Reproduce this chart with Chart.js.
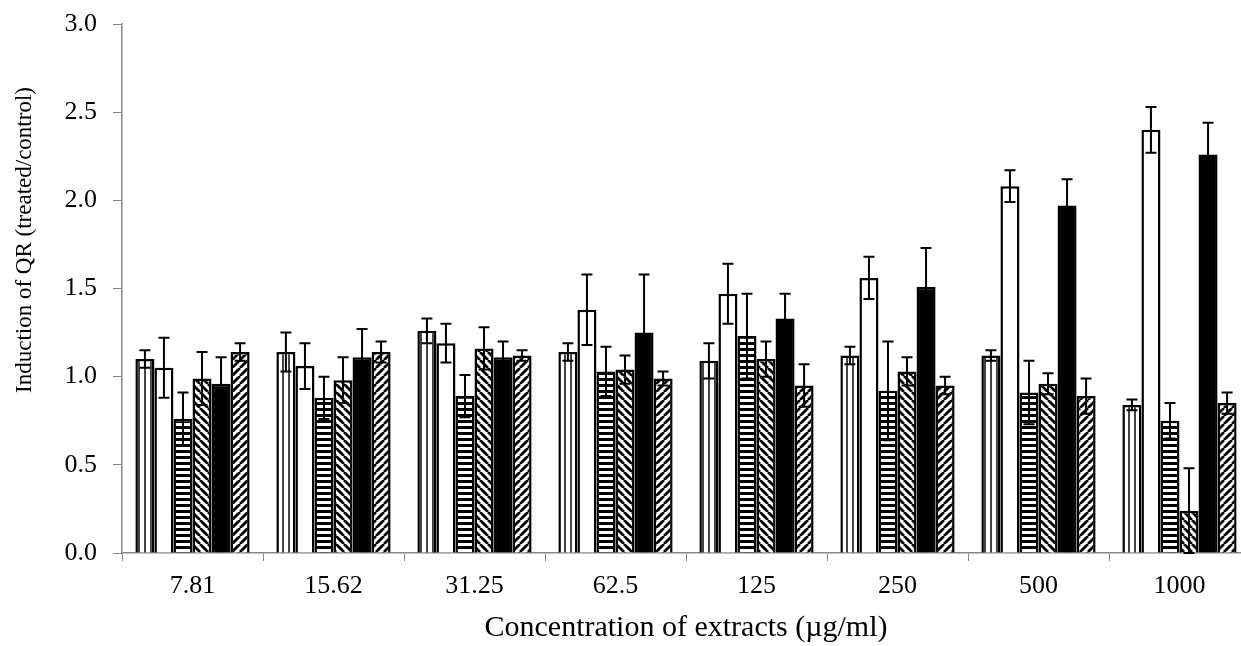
<!DOCTYPE html>
<html>
<head>
<meta charset="utf-8">
<script src="https://cdn.jsdelivr.net/npm/chart.js@4.4.1/dist/chart.umd.min.js"></script>
<style>
  html, body { margin: 0; padding: 0; background: #fff; overflow: hidden; }
  #wrap { width: 1260px; height: 646px; }
</style>
</head>
<body>
<div id="wrap"><canvas id="chart" width="1260" height="646"></canvas></div>
<script>
const categories = ["7.81", "15.62", "31.25", "62.5", "125", "250", "500", "1000"];
const yTicks = [0, 0.5, 1.0, 1.5, 2.0, 2.5, 3.0];
const yTitle = "Induction of QR (treated/control)";
const xTitle = "Concentration of extracts (\u00b5g/ml)";

// six extracts per concentration, left to right in each group
const verticalValues = [1.10, 1.14, 1.26, 1.14, 1.09, 1.12, 1.12, 0.84];
const verticalErrors = [0.05, 0.11, 0.07, 0.05, 0.10, 0.05, 0.03, 0.03];
const whiteValues = [1.05, 1.06, 1.19, 1.38, 1.47, 1.56, 2.08, 2.40];
const whiteErrors = [0.17, 0.13, 0.11, 0.20, 0.17, 0.12, 0.09, 0.13];
const horizontalValues = [0.76, 0.88, 0.89, 1.03, 1.23, 0.92, 0.91, 0.75];
const horizontalErrors = [0.15, 0.12, 0.12, 0.14, 0.24, 0.28, 0.18, 0.10];
const backslashValues = [0.99, 0.98, 1.16, 1.04, 1.10, 1.03, 0.96, 0.24];
const backslashErrors = [0.15, 0.13, 0.12, 0.08, 0.10, 0.08, 0.06, 0.24];
const blackValues = [0.96, 1.11, 1.11, 1.25, 1.33, 1.51, 1.97, 2.26];
const blackErrors = [0.15, 0.16, 0.09, 0.33, 0.14, 0.22, 0.15, 0.18];
const slashValues = [1.14, 1.14, 1.12, 0.99, 0.95, 0.95, 0.89, 0.85];
const slashErrors = [0.05, 0.06, 0.03, 0.04, 0.12, 0.05, 0.10, 0.06];

const serif = "'Liberation Serif', 'Times New Roman', serif";

function makePattern(kind) {
  const tile = document.createElement("canvas");
  const size = kind === "horizontal" ? 6 : (kind === "vertical" ? 6 : 8);
  tile.width = size;
  tile.height = size;
  const ctx = tile.getContext("2d");
  ctx.fillStyle = "#fff";
  ctx.fillRect(0, 0, size, size);
  ctx.fillStyle = "#000";
  ctx.strokeStyle = "#000";
  if (kind === "vertical") {
    ctx.fillStyle = "#444";
    ctx.fillRect(0, 0, 2, size);
  } else if (kind === "horizontal") {
    ctx.fillRect(0, 0, size, 3);
  } else {
    ctx.lineWidth = 2.8;
    ctx.beginPath();
    for (let k = -1; k <= 1; k++) {
      if (kind === "backslash") {
        ctx.moveTo(k * size, 0);
        ctx.lineTo(k * size + size, size);
      } else {
        ctx.moveTo(k * size, size);
        ctx.lineTo(k * size + size, 0);
      }
    }
    ctx.stroke();
  }
  return document.createElement("canvas").getContext("2d").createPattern(tile, "repeat");
}

const errorBarPlugin = {
  id: "errorBars",
  afterDatasetsDraw(chart) {
    const ctx = chart.ctx;
    const yScale = chart.scales.y;
    ctx.save();
    ctx.strokeStyle = "#000";
    ctx.lineWidth = 2;
    chart.data.datasets.forEach((dataset, di) => {
      const meta = chart.getDatasetMeta(di);
      meta.data.forEach((bar, i) => {
        const value = dataset.data[i];
        const err = dataset.errors[i];
        const top = yScale.getPixelForValue(value + err);
        const bottom = yScale.getPixelForValue(value - err);
        const x = bar.x;
        ctx.beginPath();
        ctx.moveTo(x, top);
        ctx.lineTo(x, bottom);
        ctx.moveTo(x - 5.5, top);
        ctx.lineTo(x + 5.5, top);
        ctx.moveTo(x - 5.5, bottom);
        ctx.lineTo(x + 5.5, bottom);
        ctx.stroke();
      });
    });
    ctx.restore();
  }
};

// y title sits a bit above the axis middle, like the original
const yTitlePlugin = {
  id: "yTitle",
  afterDraw(chart) {
    const ctx = chart.ctx;
    ctx.save();
    ctx.translate(25, 240);
    ctx.rotate(-Math.PI / 2);
    ctx.font = "23px " + serif;
    ctx.fillStyle = "#000";
    ctx.textAlign = "center";
    ctx.textBaseline = "middle";
    ctx.fillText(yTitle, 0, 0);
    ctx.restore();
  }
};

const seriesList = [
  { label: "A", data: verticalValues, errors: verticalErrors, fill: makePattern("vertical") },
  { label: "B", data: whiteValues, errors: whiteErrors, fill: "#fff" },
  { label: "C", data: horizontalValues, errors: horizontalErrors, fill: makePattern("horizontal") },
  { label: "D", data: backslashValues, errors: backslashErrors, fill: makePattern("backslash") },
  { label: "E", data: blackValues, errors: blackErrors, fill: "#000" },
  { label: "F", data: slashValues, errors: slashErrors, fill: makePattern("slash") }
];

new Chart(document.getElementById("chart").getContext("2d"), {
  type: "bar",
  data: {
    labels: categories,
    datasets: seriesList.map((s) => ({
      label: s.label,
      data: s.data,
      errors: s.errors,
      backgroundColor: s.fill,
      borderColor: "#000",
      borderWidth: 2.5,
      categoryPercentage: 0.81,
      barPercentage: 1.0
    }))
  },
  options: {
    responsive: false,
    animation: false,
    layout: { padding: { top: 24, right: 10, left: 0, bottom: 0 } },
    plugins: {
      legend: { display: false },
      tooltip: { enabled: false }
    },
    scales: {
      x: {
        offset: true,
        grid: {
          offset: true,
          drawOnChartArea: false,
          drawTicks: true,
          tickLength: 8,
          color: "#888"
        },
        border: { color: "#888", width: 1.5 },
        ticks: {
          color: "#000",
          font: { family: serif, size: 26 },
          padding: 10,
          maxRotation: 0
        },
        title: {
          display: true,
          text: xTitle,
          color: "#000",
          font: { family: serif, size: 30 },
          padding: { top: 0, bottom: 0 }
        },
        afterFit(scale) {
          scale.height = 93;
          scale.paddingLeft = 0;
          scale.paddingRight = 0;
        }
      },
      y: {
        min: 0,
        max: 3,
        afterBuildTicks(scale) {
          scale.ticks = yTicks.map((v) => ({ value: v }));
        },
        grid: {
          drawOnChartArea: false,
          drawTicks: true,
          tickLength: 9,
          color: "#888"
        },
        border: { color: "#888", width: 1.5 },
        ticks: {
          color: "#000",
          font: { family: serif, size: 26 },
          padding: 16,
          callback(value) { return Number(value).toFixed(1); }
        },
        afterFit(scale) {
          scale.width = 122;
          scale.paddingTop = 0;
          scale.paddingBottom = 0;
        }
      }
    }
  },
  plugins: [errorBarPlugin, yTitlePlugin]
});
</script>
</body>
</html>
